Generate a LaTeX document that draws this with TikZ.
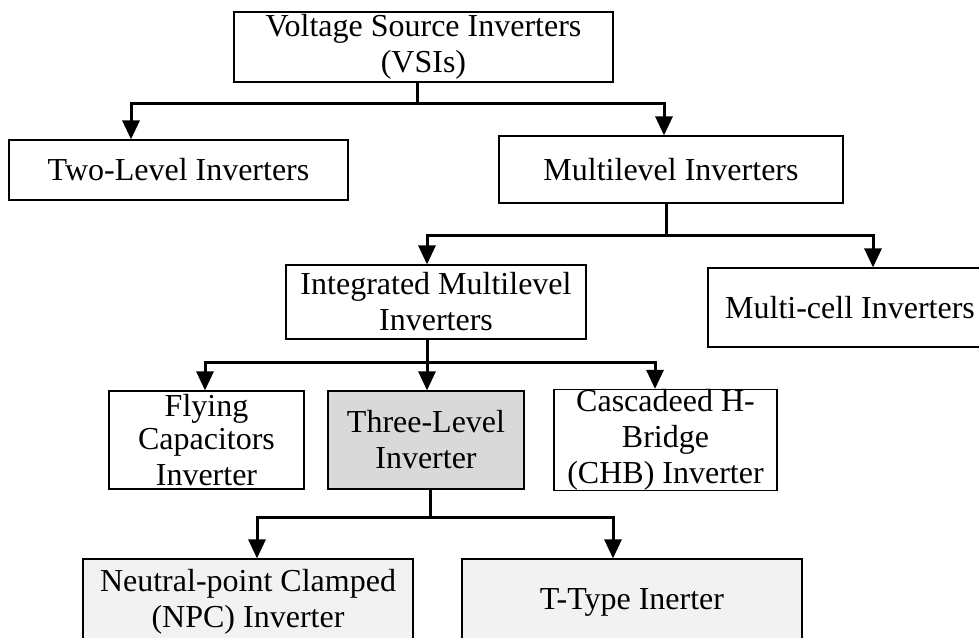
\documentclass[tikz,border=0pt]{standalone}
\usepackage{fontspec}
\setmainfont{Liberation Serif}
\usetikzlibrary{arrows.meta}

\definecolor{midgrey}{HTML}{D9D9D9}
\definecolor{lightgrey}{HTML}{F2F2F2}

\tikzset{
  box/.style={draw, line width=0.6pt, rectangle, inner sep=0pt, align=center,
              font=\fontsize{16pt}{18pt}\selectfont},
  trunk/.style={line width=1.5pt},
  branch/.style={line width=1.5pt, line join=miter, -{Triangle[length=9.5pt,width=8.5pt]}}
}

\begin{document}
\begin{tikzpicture}[x=0.5pt, y=-0.5pt]
  \useasboundingbox (0,0) rectangle (979,637);
  \clip (0,0) rectangle (979,637);

  % level 0
  \node[box, minimum width=189.5pt, minimum height=35pt] (vsi) at (423.5,47)
       {Voltage Source Inverters\\(VSIs)};

  % level 1
  \node[box, minimum width=169.5pt, minimum height=30pt] (two) at (178.5,170)
       {Two-Level Inverters};
  \node[box, minimum width=172pt, minimum height=33.5pt] (multi) at (671,169.5)
       {Multilevel Inverters};

  % level 2
  \node[box, minimum width=150pt, minimum height=37pt] (iml) at (436,302)
       {Integrated Multilevel\\Inverters};
  \node[box, minimum width=142pt, minimum height=39.5pt] (mcell) at (850,307.5)
       {\raisebox{-3.2pt}{Multi-cell Inverters}};

  % level 3
  \node[box, minimum width=97.5pt, minimum height=49pt] (fly) at (206.5,440)
       {\raisebox{-1.5pt}{Flying}\\Capacitors\\Inverter};
  \node[box, fill=midgrey, minimum width=98pt, minimum height=49pt] (three) at (426,440)
       {Three-Level\\Inverter};
  \node[box, minimum width=111.5pt, minimum height=49pt] (chb) at (665.5,440)
       {Cascadeed H-\\Bridge\\(CHB) Inverter};

  % level 4
  \node[box, fill=lightgrey, minimum width=165pt, minimum height=43pt] (npc) at (248,602)
       {Neutral-point Clamped\\(NPC) Inverter};
  \node[box, fill=lightgrey, minimum width=170pt, minimum height=43pt] (ttype) at (632,602)
       {T-Type Inerter};

  % branch points and arrow columns
  \coordinate (b0) at (417,103);
  \coordinate (c0a) at (131,0);
  \coordinate (c0b) at (664,0);
  \coordinate (b1) at (666,235);
  \coordinate (c1a) at (427,0);
  \coordinate (c1b) at (873,0);
  \coordinate (b2) at (427,362);
  \coordinate (c2a) at (205,0);
  \coordinate (c2b) at (427,0);
  \coordinate (c2c) at (655,0);
  \coordinate (b3) at (430,517);
  \coordinate (c3a) at (257,0);
  \coordinate (c3b) at (613,0);

  % VSIs -> two-level / multilevel
  \draw[trunk] (vsi.south -| b0) -- (b0);
  \draw[branch] (b0) -| (two.north -| c0a);
  \draw[branch] (b0) -| (multi.north -| c0b);

  % multilevel -> integrated / multi-cell
  \draw[trunk] (multi.south -| b1) -- (b1);
  \draw[branch] (b1) -| (iml.north -| c1a);
  \draw[branch] (b1) -| (mcell.north -| c1b);

  % integrated -> FC / three-level / CHB
  \draw[trunk] (iml.south -| b2) -- (b2);
  \draw[branch] (b2) -| (fly.north -| c2a);
  \draw[branch] (b2) -- (three.north -| c2b);
  \draw[branch] (b2) -| (chb.north -| c2c);

  % three-level -> NPC / T-type
  \draw[trunk] (three.south -| b3) -- (b3);
  \draw[branch] (b3) -| (npc.north -| c3a);
  \draw[branch] (b3) -| (ttype.north -| c3b);
\end{tikzpicture}
\end{document}
